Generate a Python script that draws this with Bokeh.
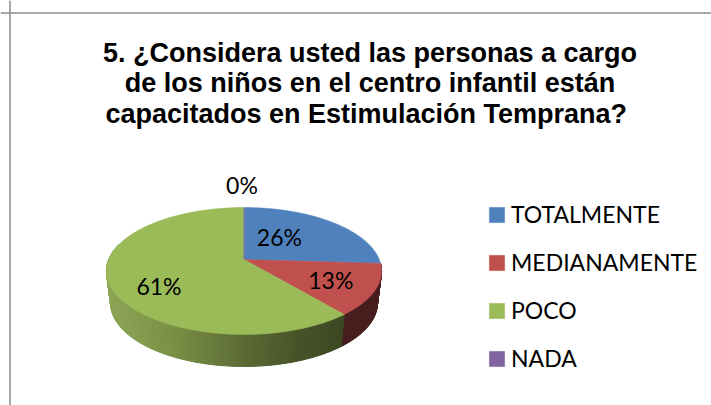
import math
from bokeh.plotting import figure
from bokeh.models import Range1d, Span, Legend, LegendItem
from bokeh.core.properties import value
from bokeh.embed import file_html
from bokeh.resources import INLINE

categories = ["TOTALMENTE", "MEDIANAMENTE", "POCO", "NADA"]
percent = [26, 13, 61, 0]
labels = ["26%", "13%", "61%", "0%"]
title_lines = ["5. ¿Considera usted las personas a cargo",
               "de los niños en el centro infantil están",
               "capacitados en  Estimulación Temprana?"]
colors = ["#4f81bd", "#c0504d", "#9bbb59", "#8064a2"]

# layout: the pie is a disc seen in perspective
CX, CY, A, B, K = 243.5, 259.0, 135.3, 61.4, 0.181
DEPTH, BOTTOM_SCALE = 32.0, 0.97
label_radius = [0.42, 0.62, 0.62, 1.0]
label_nudge = [(-4, -6), (8, 2), (-3, 13), (-2, -23)]


def project(theta_deg, r=1.0):
    t = math.radians(theta_deg)
    u, v = r * math.sin(t), r * math.cos(t)
    w = 1 + K * v
    return CX + A * u / w, CY - B * v / w


def lower(pt):
    return CX + (pt[0] - CX) * BOTTOM_SCALE, pt[1] + DEPTH


def mix(stops, x):
    for (x0, c0), (x1, c1) in zip(stops, stops[1:]):
        if x <= x1:
            f = max(0.0, (x - x0) / (x1 - x0))
            rgb = [round(a + (b - a) * f) for a, b in zip(c0, c1)]
            return "#%02x%02x%02x" % tuple(rgb)
    return "#%02x%02x%02x" % tuple(stops[-1][1])


side_stops = {
    1: [(240, (84, 34, 32)), (345, (70, 28, 28)), (390, (72, 30, 30))],
    2: [(100, (142, 168, 88)), (170, (122, 144, 68)), (240, (92, 108, 52)),
        (300, (70, 82, 40)), (345, (60, 72, 34))],
}

p = figure(width=711, height=405, output_backend="svg", toolbar_location=None,
           x_range=Range1d(0, 711), y_range=Range1d(405, 0),
           min_border=0, outline_line_color=None, background_fill_color="white")
p.xaxis.visible = False
p.yaxis.visible = False
p.grid.visible = False

p.add_layout(Span(location=9.5, dimension="height", line_color="#8c8c8c", line_width=1.5))
p.add_layout(Span(location=12.5, dimension="width", line_color="#8c8c8c", line_width=1.5))

# slice boundaries from the values
total = sum(percent)
bounds = [0.0]
for v in percent:
    bounds.append(bounds[-1] + 360.0 * v / total)

# sides
sx, sy, sc = [], [], []
for i in (1, 2):
    start, end = bounds[i], min(bounds[i + 1], 285.0)
    n = max(1, int(end - start))
    for k in range(n):
        t0 = start + (end - start) * k / n
        t1 = start + (end - start) * (k + 1) / n
        a, b = project(t0), project(t1)
        c, d = lower(b), lower(a)
        sx.append([a[0], b[0], c[0], d[0]])
        sy.append([a[1], b[1], c[1], d[1]])
        sc.append(mix(side_stops[i], (a[0] + b[0]) / 2))
p.patches(sx, sy, fill_color=sc, line_color=sc, line_width=1)

# top faces
renderers = []
for i, cat in enumerate(categories):
    start, end = bounds[i], bounds[i + 1]
    n = max(1, int(end - start))
    rim = [project(start + (end - start) * k / n) for k in range(n + 1)]
    xs = [CX] + [q[0] for q in rim]
    ys = [CY] + [q[1] for q in rim]
    renderers.append(p.patch(xs, ys, fill_color=colors[i], line_color=colors[i],
                             line_width=0.5))

# data labels
for i, text in enumerate(labels):
    mid = (bounds[i] + bounds[i + 1]) / 2
    x, y = project(mid, label_radius[i])
    p.text([x], [y], text=[text], text_font=value("Lato"), text_font_size="23px",
           text_color="black", text_align="center", text_baseline="middle",
           x_offset=label_nudge[i][0], y_offset=label_nudge[i][1])

# title
for line, y in zip(title_lines, (52, 82, 113)):
    p.text([369.5], [y], text=[line], text_font=value("Liberation Sans"),
           text_font_style="bold", text_font_size="27px", text_color="black",
           text_align="center", text_baseline="middle")

legend = Legend(items=[LegendItem(label=c, renderers=[r]) for c, r in zip(categories, renderers)],
                location=(487, 33), orientation="vertical",
                glyph_width=19, glyph_height=19, label_height=19, label_standoff=5,
                spacing=20, padding=0, margin=0, border_line_color=None,
                background_fill_alpha=0,
                label_text_font="Lato", label_text_font_size="23px", label_text_color="black")
p.add_layout(legend)

open("out.html", "w").write(file_html(p, INLINE))
